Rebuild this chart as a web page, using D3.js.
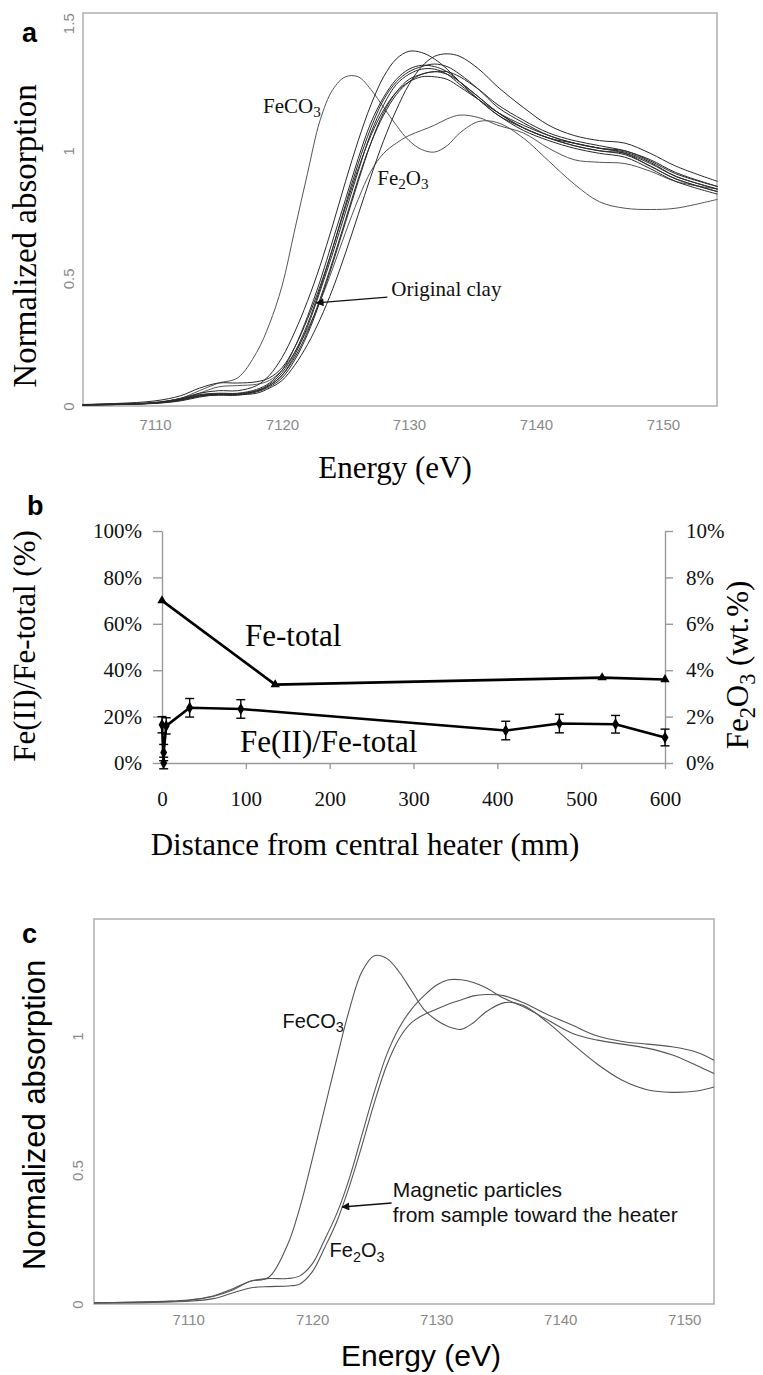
<!DOCTYPE html>
<html lang="en">
<head>
<meta charset="UTF-8">
<title>Fe K-edge XANES and Fe(II)/Fe-total</title>
<script src="https://cdn.jsdelivr.net/npm/d3@7/dist/d3.min.js"></script>
<style>
  body { margin: 0; background: #fff; }
</style>
</head>
<body>
<script>
// ---- panel a : energy grid (eV) and normalized absorption ----
const energyA = [7104.3, 7107, 7110, 7112, 7113.5, 7115, 7116.5, 7118, 7119, 7120,
  7121, 7122, 7123, 7124, 7125, 7126, 7127, 7128, 7129, 7130,
  7131, 7132, 7133, 7134, 7135.5, 7137, 7139, 7141, 7143, 7145,
  7147, 7149, 7151, 7154.3];
const feco3A = [0.005,0.008,0.015,0.03,0.06,0.09,0.11,0.21,0.32,0.47,
  0.69,0.91,1.12,1.24,1.29,1.29,1.24,1.17,1.10,1.04,
  1.005,0.995,1.02,1.07,1.115,1.11,1.05,0.96,0.87,0.80,
  0.775,0.77,0.775,0.81];
const fe2o3A = [0.003,0.005,0.012,0.025,0.05,0.075,0.08,0.085,0.10,0.14,
  0.21,0.30,0.41,0.54,0.68,0.81,0.92,0.99,1.03,1.06,
  1.08,1.10,1.125,1.14,1.13,1.10,1.07,1.01,0.965,0.955,
  0.95,0.92,0.88,0.85];
const clay1 = [0.004,0.007,0.012,0.03,0.05,0.06,0.06,0.08,0.12,0.19,
  0.29,0.41,0.55,0.71,0.88,1.04,1.18,1.29,1.36,1.39,
  1.385,1.36,1.32,1.27,1.20,1.14,1.09,1.05,1.03,1.01,
  0.99,0.94,0.89,0.84];
const clay2 = [0.003,0.006,0.01,0.02,0.035,0.045,0.045,0.05,0.07,0.10,
  0.16,0.24,0.34,0.46,0.60,0.75,0.90,1.04,1.16,1.26,
  1.33,1.37,1.38,1.37,1.32,1.25,1.17,1.10,1.06,1.04,
  1.03,0.99,0.94,0.88];
const clay3 = [0.005,0.008,0.012,0.025,0.04,0.045,0.045,0.06,0.08,0.12,
  0.20,0.31,0.45,0.60,0.76,0.92,1.07,1.18,1.26,1.30,
  1.32,1.32,1.30,1.26,1.20,1.14,1.08,1.04,1.01,0.99,
  0.975,0.93,0.88,0.83];
const clay4 = [0.004,0.007,0.013,0.028,0.045,0.05,0.05,0.065,0.09,0.14,
  0.23,0.35,0.49,0.65,0.81,0.97,1.11,1.21,1.28,1.32,
  1.335,1.33,1.31,1.27,1.21,1.15,1.09,1.05,1.02,1.00,
  0.985,0.94,0.89,0.84];
const clay5 = [0.005,0.008,0.011,0.022,0.038,0.042,0.042,0.055,0.075,0.11,
  0.18,0.28,0.41,0.56,0.72,0.88,1.03,1.15,1.23,1.28,
  1.30,1.31,1.30,1.27,1.21,1.15,1.09,1.05,1.02,1.00,
  0.99,0.95,0.90,0.85];
const clay6 = [0.006,0.01,0.02,0.04,0.07,0.09,0.09,0.095,0.11,0.15,
  0.23,0.34,0.47,0.62,0.78,0.93,1.06,1.16,1.23,1.27,
  1.29,1.29,1.28,1.25,1.20,1.15,1.10,1.06,1.03,1.01,
  1.00,0.96,0.91,0.86];
const clay7 = [0.004,0.006,0.012,0.026,0.042,0.048,0.048,0.06,0.085,0.13,
  0.21,0.32,0.46,0.62,0.79,0.95,1.09,1.20,1.27,1.31,
  1.33,1.34,1.33,1.30,1.24,1.17,1.11,1.06,1.03,1.01,
  0.995,0.955,0.90,0.85];
const clay8 = [0.005,0.007,0.012,0.024,0.04,0.046,0.046,0.058,0.08,0.12,
  0.19,0.29,0.42,0.57,0.73,0.89,1.03,1.14,1.22,1.27,
  1.30,1.31,1.31,1.29,1.24,1.18,1.12,1.07,1.04,1.02,
  1.00,0.965,0.915,0.86];

// ---- panel b : profile from the heater ----
const distTotal = [0, 135, 525, 600];          // mm
const fe2o3Wt = [7.0, 3.38, 3.68, 3.6];         // wt.% (right axis)
const distFe2 = [0, 2, 2, 5, 33, 94, 410, 474, 541, 600];
const ratioFe2 = [16.5, 0, 4.5, 16, 23.8, 23.3, 14, 17, 16.7, 11];   // %
const errFe2 = [3.5, 2.5, 3.5, 3.5, 4, 4, 4, 4, 3.8, 3.6];

// ---- panel c : energy grid and spectra ----
const energyC = [7102.4, 7105, 7108, 7110, 7112, 7113.5, 7115, 7116.5, 7118, 7119,
  7120, 7121, 7122, 7123, 7124, 7125, 7126, 7127, 7128, 7129,
  7130, 7131, 7132, 7133, 7134, 7135.5, 7137, 7139, 7141, 7143,
  7145, 7147, 7149, 7151, 7152.4];
const feco3C = [0.005,0.006,0.01,0.015,0.03,0.055,0.085,0.10,0.22,0.36,
  0.54,0.73,0.92,1.10,1.24,1.30,1.29,1.24,1.17,1.10,
  1.06,1.035,1.025,1.05,1.09,1.125,1.115,1.05,0.97,0.895,
  0.835,0.80,0.79,0.795,0.81];
const magneticC = [0.005,0.006,0.009,0.013,0.028,0.05,0.085,0.095,0.095,0.105,
  0.15,0.24,0.34,0.47,0.63,0.79,0.93,1.03,1.10,1.15,
  1.19,1.21,1.21,1.20,1.18,1.14,1.11,1.06,1.01,0.985,
  0.97,0.955,0.93,0.89,0.86];
const fe2o3C = [0.003,0.004,0.007,0.01,0.02,0.04,0.06,0.065,0.067,0.075,
  0.12,0.21,0.31,0.44,0.59,0.75,0.89,0.99,1.05,1.08,
  1.10,1.12,1.135,1.15,1.155,1.15,1.125,1.08,1.04,1.00,
  0.98,0.97,0.96,0.94,0.91];

// ---- ticks ----
const ticksEnergy = [7110, 7120, 7130, 7140, 7150];
const ticksAbsA = [0, 0.5, 1, 1.5];
const ticksAbsC = [0, 0.5, 1];
const ticksPct = [0, 20, 40, 60, 80, 100];
const ticksWt = [0, 2, 4, 6, 8, 10];
const ticksDist = [0, 100, 200, 300, 400, 500, 600];

const SERIF = "'Liberation Serif','Times New Roman',serif";
const SANS = "'Liberation Sans',Arial,sans-serif";

const svg = d3.select("body").append("svg")
    .attr("width", 763).attr("height", 1375)
    .style("background", "#fff");

svg.append("defs").append("marker")
    .attr("id", "arr").attr("viewBox", "0 0 10 10")
    .attr("refX", 9).attr("refY", 5)
    .attr("markerWidth", 10).attr("markerHeight", 8)
    .attr("markerUnits", "userSpaceOnUse").attr("orient", "auto")
  .append("path").attr("d", "M0,0L10,5L0,10z").attr("fill", "#111");

// text with subscripts: parts = [[string, isSub], ...]
function chem(t, parts, fs) {
    parts.forEach(function(p, i) {
        let prevSub = i > 0 && parts[i - 1][1];
        t.append("tspan").text(p[0])
            .attr("font-size", p[1] ? fs * 0.72 : fs)
            .attr("dy", p[1] ? (prevSub ? 0 : fs * 0.22) : (prevSub ? -fs * 0.22 : 0));
    });
    return t;
}

function panelLabel(txt, x, y) {
    svg.append("text").attr("x", x).attr("y", y).text(txt)
        .attr("font-family", SANS).attr("font-weight", "bold").attr("font-size", 27);
}

// spectra panel (a and c)
function spectraPanel(box, xDom, yDom, yTicks, tickOffset, xPad) {
    let x = d3.scaleLinear().domain(xDom).range([box.left, box.right]);
    let y = d3.scaleLinear().domain(yDom).range([box.bottom, box.top]);

    svg.append("rect")
        .attr("x", box.left).attr("y", box.top)
        .attr("width", box.right - box.left).attr("height", box.bottom - box.top)
        .attr("fill", "none").attr("stroke", "#a8a8a8").attr("stroke-width", 1.4);

    let gx = svg.append("g").attr("transform", "translate(0," + box.bottom + ")")
        .call(d3.axisBottom(x).tickValues(ticksEnergy).tickSize(0).tickPadding(xPad).tickFormat(d3.format("d")));
    gx.select(".domain").remove();
    gx.selectAll("text").attr("font-family", SANS).attr("font-size", 15).attr("fill", "#8a8a8a");

    let gy = svg.append("g").attr("transform", "translate(" + box.left + ",0)")
        .call(d3.axisLeft(y).tickValues(yTicks).tickSize(0).tickFormat(d => d));
    gy.select(".domain").remove();
    gy.selectAll("text")
        .attr("x", 0).attr("dy", 0).attr("text-anchor", "middle")
        .attr("transform", "translate(" + (-tickOffset) + ",0) rotate(-90)")
        .attr("font-family", SANS).attr("font-size", 15).attr("fill", "#8a8a8a");

    let line = function(energy) {
        return d3.line()
            .x((d, i) => x(energy[i]))
            .y(d => y(d))
            .curve(d3.curveCatmullRom.alpha(0.5));
    };
    return {x: x, y: y, line: line};
}

// ================= panel a =================
const boxA = {left: 83, right: 717, top: 13, bottom: 406};
const pa = spectraPanel(boxA, [7104.33, 7154.25], [0, 1.54], ticksAbsA, 9, 13);

[feco3A, fe2o3A].forEach(function(s) {
    svg.append("path").datum(s).attr("d", pa.line(energyA))
        .attr("fill", "none").attr("stroke", "#555").attr("stroke-width", 1);
});
[clay1, clay2, clay3, clay4, clay5, clay6, clay7, clay8].forEach(function(s) {
    svg.append("path").datum(s).attr("d", pa.line(energyA))
        .attr("fill", "none").attr("stroke", "#2a2a2a").attr("stroke-width", 1);
});

chem(svg.append("text").attr("x", pa.x(7118.5)).attr("y", pa.y(1.149))
    .attr("font-family", SERIF).attr("fill", "#111"), [["FeCO", 0], ["3", 1]], 21);
chem(svg.append("text").attr("x", pa.x(7127.5)).attr("y", pa.y(0.867))
    .attr("font-family", SERIF).attr("fill", "#111"), [["Fe", 0], ["2", 1], ["O", 0], ["3", 1]], 21);
svg.append("text").attr("x", pa.x(7128.6)).attr("y", pa.y(0.431))
    .attr("font-family", SERIF).attr("font-size", 21).attr("fill", "#111").text("Original clay");
svg.append("line")
    .attr("x1", pa.x(7128.3)).attr("y1", pa.y(0.427))
    .attr("x2", pa.x(7122.7)).attr("y2", pa.y(0.404))
    .attr("stroke", "#111").attr("stroke-width", 1.3).attr("marker-end", "url(#arr)");

svg.append("text").attr("transform", "translate(36,236) rotate(-90)")
    .attr("text-anchor", "middle").attr("font-family", SERIF).attr("font-size", 33)
    .text("Normalized absorption");
svg.append("text").attr("x", 395).attr("y", 478).attr("text-anchor", "middle")
    .attr("font-family", SERIF).attr("font-size", 31).text("Energy (eV)");
panelLabel("a", 22, 42);

// ================= panel b =================
const boxB = {left: 162, right: 665, top: 531, bottom: 763};
const xB = d3.scaleLinear().domain([0, 600]).range([boxB.left, boxB.right]);
const yL = d3.scaleLinear().domain([0, 100]).range([boxB.bottom, boxB.top]);
const yR = d3.scaleLinear().domain([0, 10]).range([boxB.bottom, boxB.top]);

function styleAxis(g) {
    g.selectAll(".domain, line").attr("stroke", "#9a9a9a").attr("stroke-width", 1.4);
    g.selectAll("text").attr("font-family", SERIF).attr("font-size", 21).attr("fill", "#111");
}
svg.append("g").attr("transform", "translate(" + boxB.left + ",0)")
    .call(d3.axisLeft(yL).tickValues(ticksPct).tickSize(9).tickSizeOuter(0).tickPadding(11).tickFormat(d => d + "%"))
    .call(styleAxis);
svg.append("g").attr("transform", "translate(" + boxB.right + ",0)")
    .call(d3.axisRight(yR).tickValues(ticksWt).tickSize(8).tickSizeOuter(0).tickPadding(13).tickFormat(d => d + "%"))
    .call(styleAxis);
svg.append("g").attr("transform", "translate(0," + boxB.bottom + ")")
    .call(d3.axisBottom(xB).tickValues(ticksDist).tickSize(6).tickSizeOuter(0).tickPadding(22).tickFormat(d3.format("d")))
    .call(styleAxis);

// Fe-total (right axis)
const totalPts = distTotal.map((d, i) => [xB(d), yR(fe2o3Wt[i])]);
svg.append("path").datum(totalPts).attr("d", d3.line())
    .attr("fill", "none").attr("stroke", "#000").attr("stroke-width", 2.6).attr("stroke-linejoin", "round");
svg.selectAll(".tri").data(totalPts).enter().append("path")
    .attr("transform", d => "translate(" + d[0] + "," + d[1] + ")")
    .attr("d", d3.symbol(d3.symbolTriangle).size(38)).attr("fill", "#000");

// Fe(II)/Fe-total (left axis) with error bars
const fe2Pts = distFe2.map((d, i) => [xB(d), yL(ratioFe2[i])]);
svg.append("path").datum(fe2Pts).attr("d", d3.line())
    .attr("fill", "none").attr("stroke", "#000").attr("stroke-width", 2.6).attr("stroke-linejoin", "round");
const eb = svg.append("g").attr("stroke", "#000").attr("stroke-width", 1.4);
distFe2.forEach(function(d, i) {
    let cx = xB(d), lo = yL(ratioFe2[i] - errFe2[i]), hi = yL(ratioFe2[i] + errFe2[i]);
    eb.append("line").attr("x1", cx).attr("x2", cx).attr("y1", lo).attr("y2", hi);
    eb.append("line").attr("x1", cx - 4.5).attr("x2", cx + 4.5).attr("y1", lo).attr("y2", lo);
    eb.append("line").attr("x1", cx - 4.5).attr("x2", cx + 4.5).attr("y1", hi).attr("y2", hi);
});
svg.selectAll(".dia").data(fe2Pts).enter().append("path")
    .attr("transform", d => "translate(" + d[0] + "," + d[1] + ")")
    .attr("d", d3.symbol(d3.symbolDiamond).size(42)).attr("fill", "#000");

svg.append("text").attr("x", xB(99)).attr("y", yL(50.4))
    .attr("font-family", SERIF).attr("font-size", 31).text("Fe-total");
svg.append("text").attr("x", xB(93)).attr("y", yL(4.7))
    .attr("font-family", SERIF).attr("font-size", 31).text("Fe(II)/Fe-total");

svg.append("text").attr("transform", "translate(35,646) rotate(-90)")
    .attr("text-anchor", "middle").attr("font-family", SERIF).attr("font-size", 31)
    .text("Fe(II)/Fe-total (%)");
chem(svg.append("text").attr("transform", "translate(748,665) rotate(-90)")
    .attr("text-anchor", "middle").attr("font-family", SERIF),
    [["Fe", 0], ["2", 1], ["O", 0], ["3", 1], [" (wt.%)", 0]], 31);
svg.append("text").attr("x", 365).attr("y", 855).attr("text-anchor", "middle")
    .attr("font-family", SERIF).attr("font-size", 31).text("Distance from central heater (mm)");
panelLabel("b", 27, 515);

// ================= panel c =================
const boxC = {left: 94, right: 714, top: 919, bottom: 1304};
const pc = spectraPanel(boxC, [7102.4, 7152.4], [0, 1.437], ticksAbsC, 11, 10);

[feco3C, magneticC, fe2o3C].forEach(function(s) {
    svg.append("path").datum(s).attr("d", pc.line(energyC))
        .attr("fill", "none").attr("stroke", "#555").attr("stroke-width", 1.1);
});

chem(svg.append("text").attr("x", pc.x(7117.6)).attr("y", pc.y(1.03))
    .attr("font-family", SANS).attr("fill", "#111"), [["FeCO", 0], ["3", 1]], 20);
chem(svg.append("text").attr("x", pc.x(7121.4)).attr("y", pc.y(0.175))
    .attr("font-family", SANS).attr("fill", "#111"), [["Fe", 0], ["2", 1], ["O", 0], ["3", 1]], 20);
svg.append("text").attr("x", pc.x(7126.5)).attr("y", pc.y(0.40))
    .attr("font-family", SANS).attr("font-size", 21).attr("fill", "#111").text("Magnetic particles");
svg.append("text").attr("x", pc.x(7126.5)).attr("y", pc.y(0.306))
    .attr("font-family", SANS).attr("font-size", 21).attr("fill", "#111").text("from sample toward the heater");
svg.append("line")
    .attr("x1", pc.x(7126.4)).attr("y1", pc.y(0.377))
    .attr("x2", pc.x(7122.4)).attr("y2", pc.y(0.362))
    .attr("stroke", "#111").attr("stroke-width", 1.3).attr("marker-end", "url(#arr)");

svg.append("text").attr("transform", "translate(45,1270) rotate(-90)")
    .attr("font-family", SANS).attr("font-size", 31).text("Normalized absorption");
svg.append("text").attr("x", 421).attr("y", 1366).attr("text-anchor", "middle")
    .attr("font-family", SANS).attr("font-size", 30).text("Energy (eV)");
panelLabel("c", 22, 943);
</script>
</body>
</html>
